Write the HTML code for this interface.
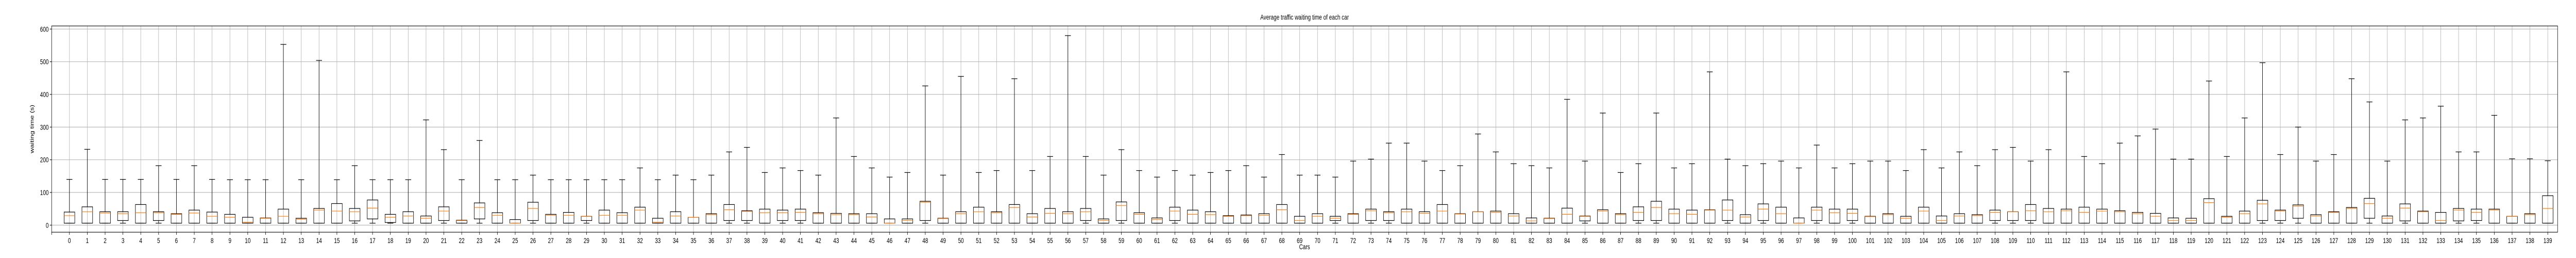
<!DOCTYPE html>
<html><head><meta charset="utf-8"><style>
html,body{margin:0;padding:0;background:#fff;overflow:hidden;width:100%;height:100%;}
svg{display:block;font-family:"Liberation Sans","DejaVu Sans",sans-serif;width:100vw;height:100vh;}
</style></head><body>
<svg id="chart" viewBox="0 0 7000 500" preserveAspectRatio="none" xmlns="http://www.w3.org/2000/svg">
<text x="3545" y="38" font-size="14" text-anchor="middle" fill="#000">Average traffic waiting time of each car</text>
<text x="3545" y="483" font-size="14" text-anchor="middle" fill="#000">Cars</text>
<text x="0" y="0" font-size="14" text-anchor="middle" fill="#000" transform="translate(92,250) rotate(-90)">waiting time (s)</text>
<g id="grid"></g>
<g id="boxes"></g>
<g id="axes"></g>
</svg>
<script>
const categories = Array.from({length:140},(_,i)=>String(i));
const yTicks = [0,100,200,300,400,500,600];
const q1 = [6,6,6,14,6,14,6,6,6,6,6,6,6,6,6,6,13,19,8,6,6,14,6,19,6,6,14,6,6,14,6,6,6,6,6,6,6,14,14,6,14,14,6,6,6,6,6,6,14,6,6,6,6,6,6,6,6,14,6,14,6,6,14,6,6,6,6,6,6,6,6,14,6,14,14,6,6,6,6,6,6,6,6,6,6,13,6,6,14,14,6,6,6,14,6,14,6,6,14,6,14,6,6,6,6,6,6,6,14,14,14,6,6,6,6,6,6,6,6,6,6,6,6,14,14,21,6,6,6,21,6,13,6,6,13,14,6,6,6,6];
const med = [29,41,37,35,38,38,33,37,27,24,9,21,27,18,46,43,41,52,24,28,21,43,14,54,30,6,51,30,30,27,30,30,46,9,28,24,32,47,42,38,38,39,35,32,32,25,6,14,70,20,35,41,38,54,25,36,35,41,14,60,33,17,43,33,32,27,29,30,47,14,27,21,33,44,38,41,36,43,34,41,39,28,13,20,33,27,43,32,39,54,35,33,46,46,25,49,35,6,46,38,36,26,32,21,43,14,28,29,39,41,44,41,44,39,43,41,35,27,14,14,69,24,35,65,43,58,28,39,51,66,21,52,41,14,46,39,46,27,32,51];
const q3 = [40,56,41,41,63,41,35,46,40,33,24,22,49,21,51,66,51,77,33,41,28,56,15,68,38,17,70,33,39,27,46,38,55,21,41,24,35,63,44,49,46,49,38,36,35,35,19,19,73,21,41,55,41,63,35,51,41,51,19,71,38,22,55,46,41,29,31,35,63,27,35,27,35,49,41,49,41,63,35,41,43,35,22,21,52,28,47,35,56,73,49,46,47,77,32,65,55,22,55,49,49,27,35,27,55,28,35,32,46,41,63,51,49,55,49,44,39,36,22,21,81,27,43,76,46,62,32,41,54,82,28,65,43,39,51,49,49,27,35,90];
const whisLo = Array(140).fill(6);
const whisHi = [140,232,140,140,140,182,140,182,140,139,139,139,553,139,504,139,182,139,139,139,322,231,139,259,139,139,153,139,139,139,139,139,175,139,153,139,153,224,238,161,175,167,153,328,210,175,147,161,426,153,455,161,167,448,167,210,580,210,153,231,167,147,167,153,161,167,182,147,216,153,153,147,196,202,251,251,196,167,182,279,224,188,182,175,385,196,343,161,188,343,175,188,469,202,182,188,196,175,245,175,188,196,196,167,231,175,224,182,231,238,196,231,469,210,188,251,273,294,202,202,441,210,328,497,216,300,196,216,448,377,196,322,328,364,224,224,336,203,203,197];

const NS="http://www.w3.org/2000/svg";
const L=140.3,R=6950,T=50.3,B=450;
const xOf=i=>188.7+48.45*i;
const yOf=v=>436.3-v*0.63333;
function mk(tag,attrs,parent){const e=document.createElementNS(NS,tag);for(const k in attrs)e.setAttribute(k,attrs[k]);parent.appendChild(e);return e;}
const grid=document.getElementById('grid'),boxes=document.getElementById('boxes'),axes=document.getElementById('axes');
yTicks.forEach(v=>{const y=yOf(v);
 const g=mk('line',{x1:L,x2:R,y1:y,y2:y,stroke:'#b0b0b0','stroke-width':1.1},grid);
 
 
 const t=mk('line',{x1:L-5,x2:L,y1:y,y2:y,stroke:'#000','stroke-width':1.1},axes);
 
 
 const tx=mk('text',{x:L-8,y:y+5,'font-size':14,'text-anchor':'end',fill:'#000'},axes);
 tx.textContent=String(v);
 
 
});
{const t=mk('line',{x1:L,x2:L,y1:B,y2:B+5,stroke:'#000','stroke-width':1.1},axes);
 
 }
categories.forEach((c,i)=>{const x=xOf(i);
 const g=mk('line',{x1:x,x2:x,y1:T,y2:B,stroke:'#b0b0b0','stroke-width':1.1},grid);
 
 
 const t=mk('line',{x1:x,x2:x,y1:B,y2:B+5,stroke:'#000','stroke-width':1.1},axes);
 
 
 const tx=mk('text',{x:x,y:B+21,'font-size':14,'text-anchor':'middle',fill:'#000'},axes);
 tx.textContent=c;
 
 
 const g2=mk('g',{},boxes);
 
 
 const hw=14.5,cw=8;
 mk('line',{x1:x,x2:x,y1:yOf(q3[i]),y2:yOf(whisHi[i]),stroke:'#000','stroke-width':1.2},g2);
 mk('line',{x1:x,x2:x,y1:yOf(q1[i]),y2:yOf(whisLo[i]),stroke:'#000','stroke-width':1.2},g2);
 mk('line',{x1:x-cw,x2:x+cw,y1:yOf(whisHi[i]),y2:yOf(whisHi[i]),stroke:'#000','stroke-width':1.2},g2);
 mk('line',{x1:x-cw,x2:x+cw,y1:yOf(whisLo[i]),y2:yOf(whisLo[i]),stroke:'#000','stroke-width':1.2},g2);
 mk('rect',{x:x-hw,y:yOf(q3[i]),width:2*hw,height:Math.max(0.5,yOf(q1[i])-yOf(q3[i])),fill:'none',stroke:'#000','stroke-width':1.2},g2);
 mk('line',{x1:x-hw,x2:x+hw,y1:yOf(med[i]),y2:yOf(med[i]),stroke:'#ff7f0e','stroke-width':1.2},g2);
});
{const f=mk('rect',{x:L,y:T,width:R-L,height:B-T,fill:'none',stroke:'#000','stroke-width':1.1},axes);
 
 }
</script>
</body></html>
